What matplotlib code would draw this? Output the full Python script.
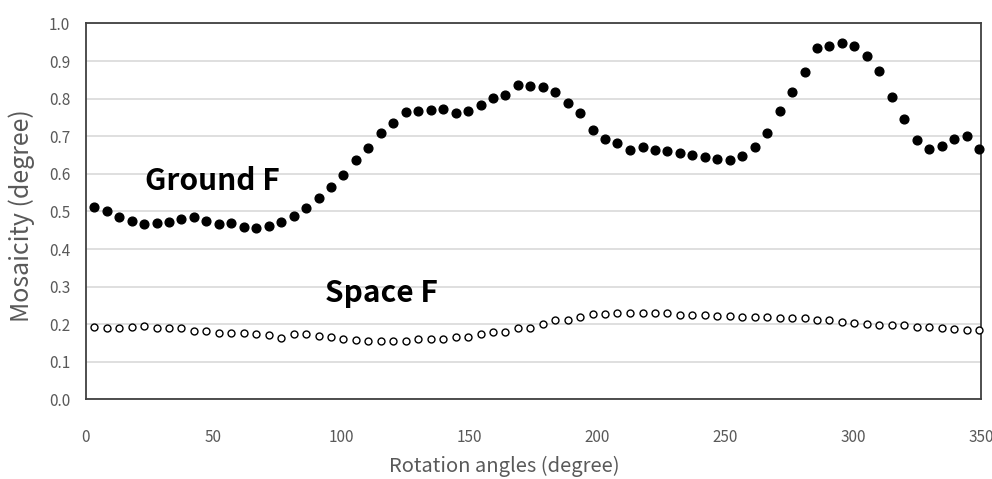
import matplotlib
matplotlib.use("Agg")
import matplotlib.pyplot as plt

plt.rcParams['font.family'] = ['Noto Sans CJK JP', 'DejaVu Sans']

# rotation angles (degree)
angles = [3.4, 8.3, 13.1, 18.0, 22.9, 27.8, 32.6, 37.5, 42.4, 47.2,
          52.1, 57.0, 61.8, 66.7, 71.6, 76.5, 81.3, 86.2, 91.1, 95.9,
          100.8, 105.7, 110.5, 115.4, 120.3, 125.2, 130.0, 134.9, 139.8, 144.6,
          149.5, 154.4, 159.2, 164.1, 169.0, 173.9, 178.7, 183.6, 188.5, 193.3,
          198.2, 203.1, 207.9, 212.8, 217.7, 222.6, 227.4, 232.3, 237.2, 242.0,
          246.9, 251.8, 256.6, 261.5, 266.4, 271.3, 276.1, 281.0, 285.9, 290.7,
          295.6, 300.5, 305.3, 310.2, 315.1, 320.0, 324.8, 329.7, 334.6, 339.4,
          344.3, 349.2]

ground_f = [0.512, 0.501, 0.486, 0.475, 0.467, 0.469, 0.472, 0.481, 0.486, 0.475,
            0.468, 0.469, 0.460, 0.457, 0.461, 0.471, 0.489, 0.509, 0.536, 0.564,
            0.598, 0.637, 0.668, 0.708, 0.734, 0.764, 0.767, 0.770, 0.772, 0.761,
            0.768, 0.782, 0.803, 0.811, 0.837, 0.835, 0.832, 0.817, 0.789, 0.761,
            0.716, 0.693, 0.683, 0.664, 0.672, 0.663, 0.661, 0.655, 0.651, 0.645,
            0.640, 0.637, 0.648, 0.672, 0.710, 0.767, 0.817, 0.871, 0.935, 0.939,
            0.949, 0.939, 0.914, 0.874, 0.805, 0.745, 0.691, 0.667, 0.674, 0.692,
            0.701, 0.667]

space_f = [0.192, 0.191, 0.191, 0.192, 0.195, 0.190, 0.191, 0.190, 0.183, 0.182,
           0.178, 0.176, 0.176, 0.173, 0.171, 0.163, 0.175, 0.175, 0.168, 0.167,
           0.160, 0.157, 0.156, 0.156, 0.156, 0.156, 0.160, 0.160, 0.160, 0.166,
           0.166, 0.175, 0.180, 0.180, 0.191, 0.190, 0.201, 0.211, 0.211, 0.219,
           0.227, 0.227, 0.229, 0.229, 0.230, 0.230, 0.231, 0.226, 0.224, 0.224,
           0.223, 0.222, 0.220, 0.220, 0.220, 0.216, 0.216, 0.216, 0.211, 0.211,
           0.206, 0.203, 0.202, 0.197, 0.197, 0.197, 0.193, 0.193, 0.189, 0.187,
           0.186, 0.185]

grey = "#595959"

fig = plt.figure(figsize=(9.92, 4.79), dpi=100)
ax = fig.add_axes([0.0862, 0.166, 0.9028, 0.785])

ax.plot(angles, ground_f, 'o', color='black', markersize=6.3, clip_on=False, zorder=3)
ax.plot(angles, space_f, 'o', markerfacecolor='white', markeredgecolor='black',
        markeredgewidth=1.0, markersize=5, clip_on=False, zorder=3)

ax.set_xlim(0, 350)
ax.set_ylim(0, 1.0)
ax.set_xticks(range(0, 351, 50))
ax.set_yticks([i / 10 for i in range(11)])
ax.set_yticklabels(["%.1f" % (i / 10) for i in range(11)])
ax.yaxis.grid(True, color='#d9d9d9', linewidth=1.2)
ax.set_axisbelow(True)
ax.tick_params(axis='both', length=0, labelsize=11, labelcolor=grey)
ax.tick_params(axis='x', pad=21)
ax.tick_params(axis='y', pad=11)
for s in ax.spines.values():
    s.set_color('#404040')
    s.set_linewidth(1.3)

ax.set_xlabel("Rotation angles (degree)", fontsize=14.5, color=grey, va='center')
ax.xaxis.set_label_coords(0.468, -0.177)
ax.set_ylabel("Mosaicity (degree)", fontsize=18, color=grey, va='center')
ax.yaxis.set_label_coords(-0.071, 0.49)

ax.text(23.3, 0.581, "Ground F", fontsize=21.5, fontweight='bold', va='center', ha='left')
ax.text(93.7, 0.283, "Space F", fontsize=21.5, fontweight='bold', va='center', ha='left')

fig.savefig("out.png", dpi=100)
